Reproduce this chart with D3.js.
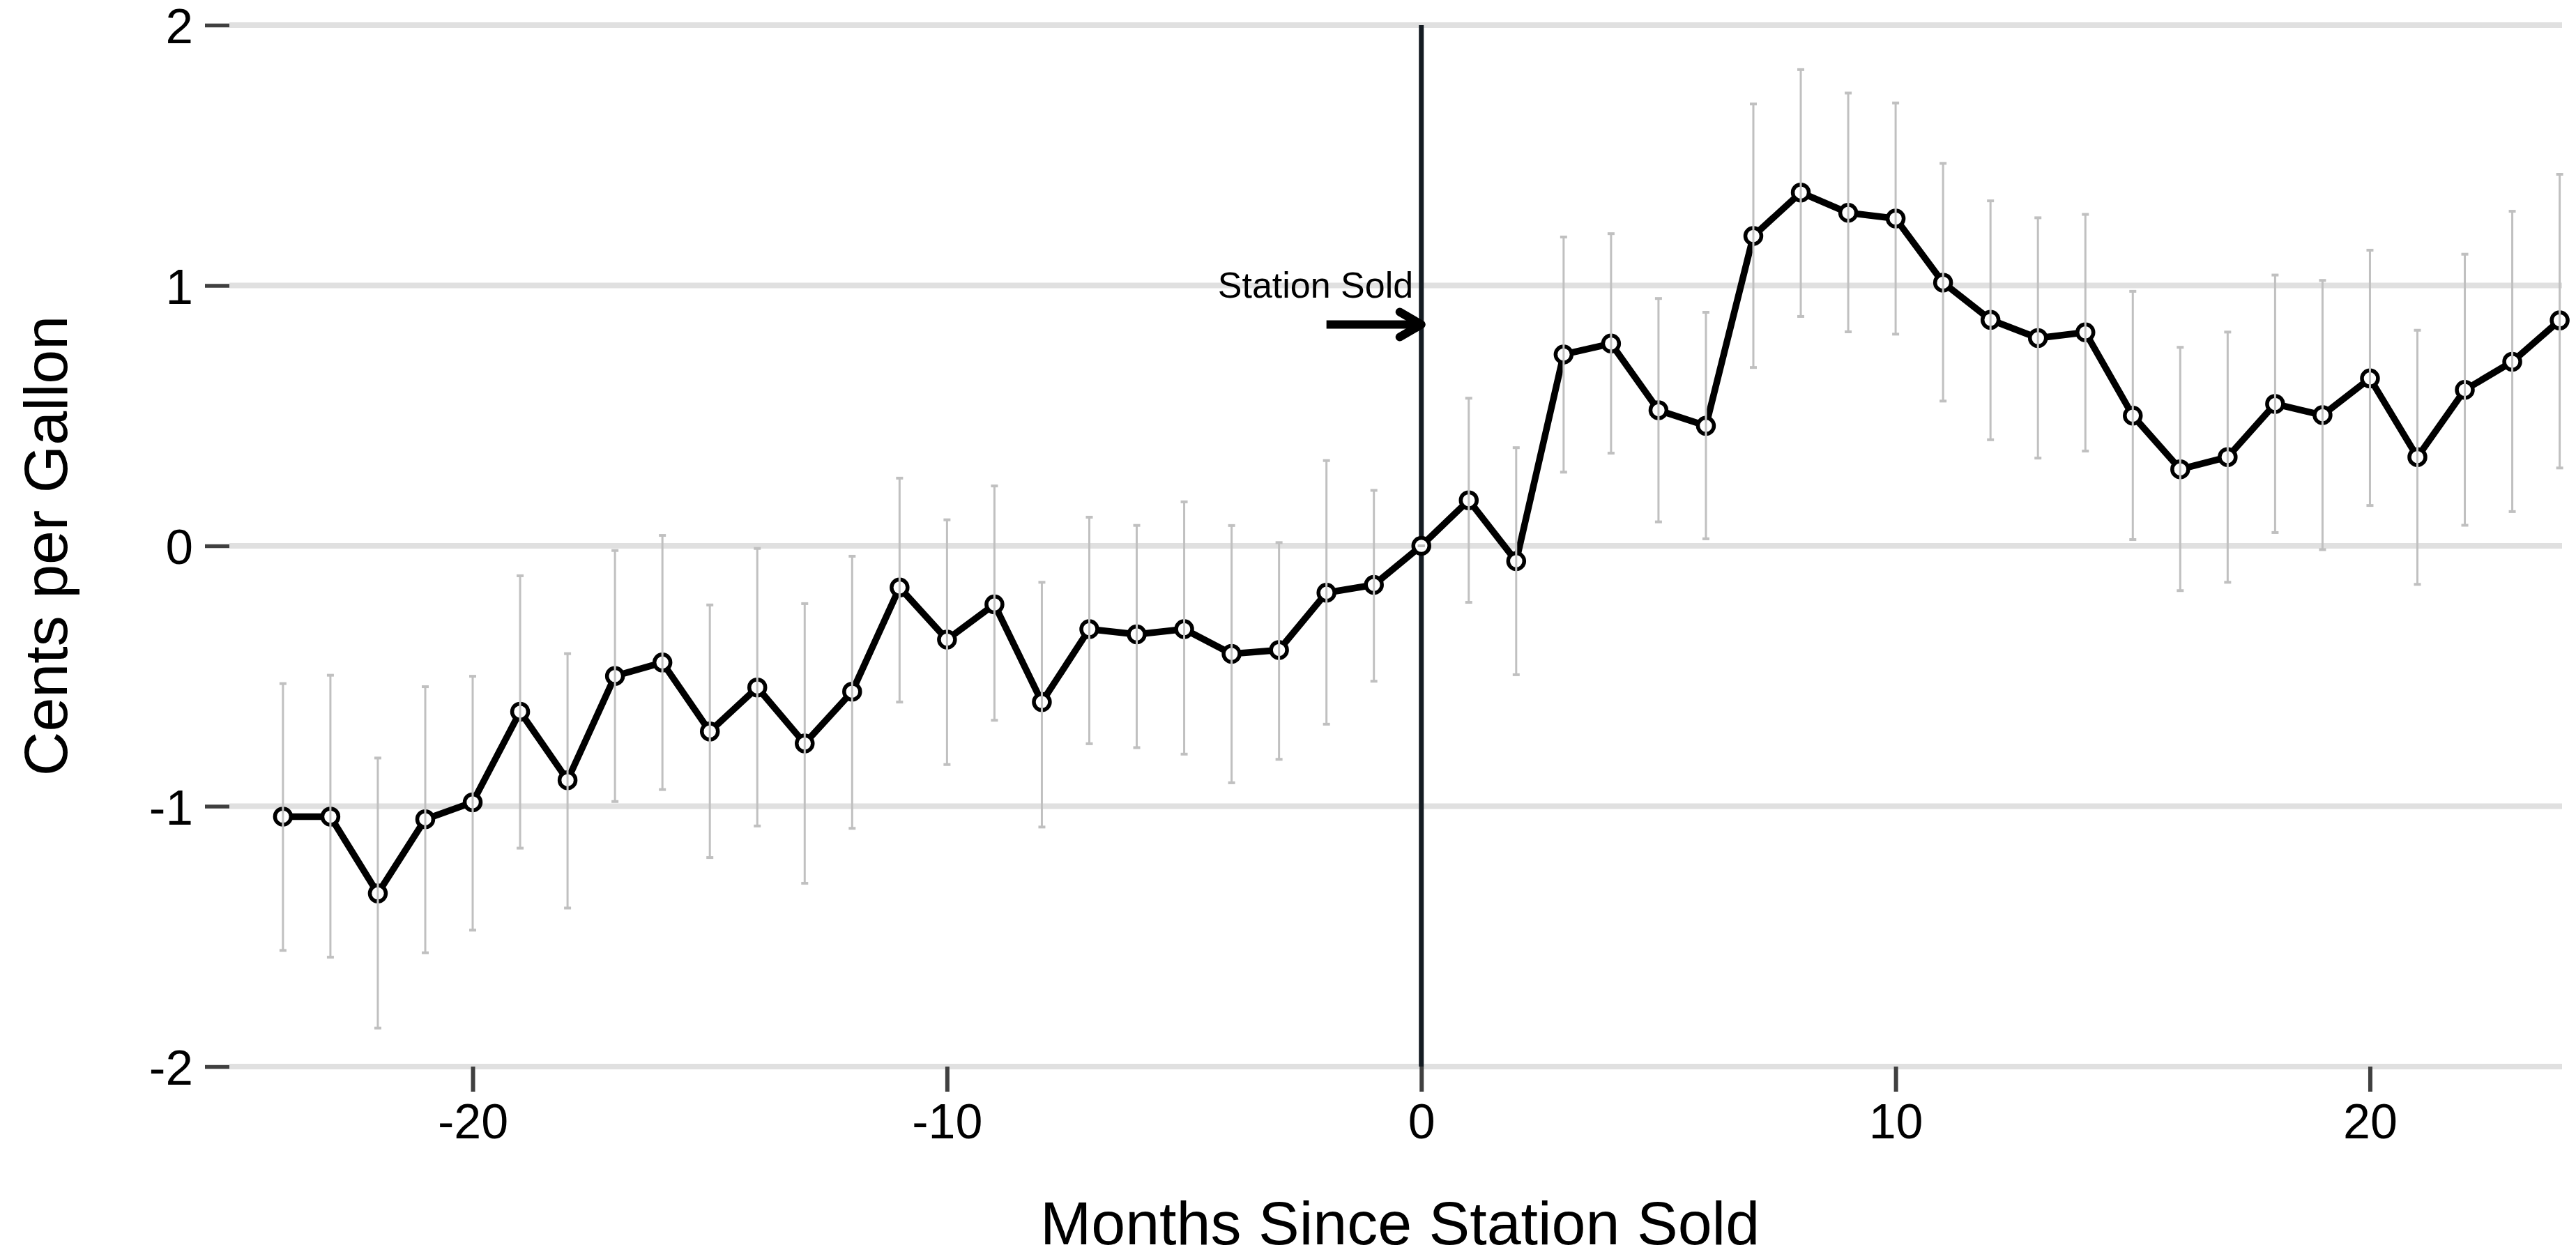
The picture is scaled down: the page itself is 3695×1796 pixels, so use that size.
<!DOCTYPE html>
<html>
<head>
<meta charset="utf-8">
<script src="https://cdn.jsdelivr.net/npm/d3@7/dist/d3.min.js"></script>
<style>
  html, body { margin: 0; padding: 0; background: #ffffff; }
  svg { display: block; }
  text { font-family: "Liberation Sans", Arial, Helvetica, sans-serif; fill: #000; }
</style>
</head>
<body>
<svg id="chart" width="3695" height="1796"></svg>
<script>
// ---- data ----
const months = [-24,-23,-22,-21,-20,-19,-18,-17,-16,-15,-14,-13,-12,-11,-10,-9,-8,-7,-6,-5,-4,-3,-2,-1,
                 0,1,2,3,4,5,6,7,8,9,10,11,12,13,14,15,16,17,18,19,20,21,22,23,24];
const estimate = [-1.04,-1.04,-1.335,-1.05,-0.985,-0.637,-0.90,-0.50,-0.448,-0.713,-0.544,-0.759,
                  -0.56,-0.16,-0.36,-0.225,-0.60,-0.32,-0.34,-0.32,-0.415,-0.40,-0.18,-0.15,
                  0,0.175,-0.059,0.735,0.777,0.521,0.461,1.19,1.357,1.279,1.257,1.011,0.868,0.798,
                  0.82,0.50,0.294,0.341,0.545,0.502,0.643,0.341,0.599,0.707,0.866];
const ciUpper = [-0.529,-0.497,-0.815,-0.541,-0.501,-0.115,-0.414,-0.018,0.04,-0.227,-0.01,-0.222,
                 -0.04,0.26,0.10,0.23,-0.14,0.11,0.0785,0.169,0.078,0.0125,0.3275,0.213,
                 0,0.567,0.377,1.186,1.199,0.95,0.897,1.697,1.829,1.739,1.701,1.469,1.325,1.26,
                 1.273,0.9775,0.7625,0.821,1.04,1.0195,1.1355,0.828,1.12,1.285,1.427];
const ciLower = [-1.554,-1.58,-1.852,-1.563,-1.476,-1.161,-1.391,-0.982,-0.936,-1.197,-1.076,-1.296,
                 -1.085,-0.60,-0.84,-0.67,-1.08,-0.76,-0.775,-0.80,-0.91,-0.82,-0.685,-0.52,
                 0,-0.217,-0.495,0.283,0.356,0.092,0.027,0.685,0.881,0.822,0.813,0.556,0.4075,0.337,
                 0.364,0.024,-0.172,-0.14,0.051,-0.0145,0.155,-0.148,0.079,0.1315,0.299];
const xTicks = [-20, -10, 0, 10, 20];
const yTicks = [-2, -1, 0, 1, 2];
const xTitle = "Months Since Station Sold";
const yTitle = "Cents per Gallon";
const annotationLabel = "Station Sold";
const eventMonth = 0;

// ---- layout ----
const svg = d3.select("#chart");
const plot = { left: 329, right: 3675, top: 36, bottom: 1530 };
const x = d3.scaleLinear().domain([-25.13, 24.05]).range([plot.left, plot.right]);
const y = d3.scaleLinear().domain([-2, 2]).range([plot.bottom, plot.top]);

const data = months.map((m, i) => ({ m, v: estimate[i], lo: ciLower[i], hi: ciUpper[i] }));

// gridlines
svg.append("g").selectAll("line").data(yTicks).join("line")
  .attr("x1", plot.left).attr("x2", plot.right)
  .attr("y1", d => y(d)).attr("y2", d => y(d))
  .attr("stroke", "#e0e0e0").attr("stroke-width", 8);

// y axis
const yAxis = svg.append("g").attr("transform", `translate(${plot.left},0)`)
  .call(d3.axisLeft(y).tickValues(yTicks).tickSize(35).tickPadding(17).tickFormat(d => String(d)));
yAxis.select(".domain").remove();
yAxis.selectAll(".tick line").attr("stroke", "#404040").attr("stroke-width", 5.5);
yAxis.selectAll(".tick text").attr("font-size", 71).attr("fill", "#000")
  .attr("font-family", "'Liberation Sans', Arial, Helvetica, sans-serif").attr("dy", "0.36em");

// x axis
const xAxis = svg.append("g").attr("transform", `translate(0,${plot.bottom})`)
  .call(d3.axisBottom(x).tickValues(xTicks).tickSize(36).tickPadding(17).tickFormat(d => String(d)));
xAxis.select(".domain").remove();
xAxis.selectAll(".tick line").attr("stroke", "#404040").attr("stroke-width", 6);
xAxis.selectAll(".tick text").attr("font-size", 70).attr("fill", "#000")
  .attr("font-family", "'Liberation Sans', Arial, Helvetica, sans-serif");

// vertical event line
svg.append("line")
  .attr("x1", x(eventMonth)).attr("x2", x(eventMonth))
  .attr("y1", y(2)).attr("y2", y(-2))
  .attr("stroke", "#141b22").attr("stroke-width", 7);

// connected line
const line = d3.line().x(d => x(d.m)).y(d => y(d.v));
svg.append("path").datum(data)
  .attr("d", line)
  .attr("fill", "none").attr("stroke", "#000").attr("stroke-width", 9.5)
  .attr("stroke-linejoin", "round").attr("stroke-linecap", "round");

// markers
svg.append("g").selectAll("circle").data(data).join("circle")
  .attr("cx", d => x(d.m)).attr("cy", d => y(d.v)).attr("r", 11.5)
  .attr("fill", "#fff").attr("stroke", "#000").attr("stroke-width", 5.5);

// error bars (drawn on top)
const eb = svg.append("g").attr("stroke", "#c0c0c0");
eb.selectAll("line.bar").data(data).join("line").attr("class", "bar")
  .attr("x1", d => x(d.m)).attr("x2", d => x(d.m))
  .attr("y1", d => y(d.hi)).attr("y2", d => y(d.lo))
  .attr("stroke-width", 3);
eb.selectAll("line.capHi").data(data).join("line").attr("class", "capHi")
  .attr("x1", d => x(d.m) - 5).attr("x2", d => x(d.m) + 5)
  .attr("y1", d => y(d.hi)).attr("y2", d => y(d.hi))
  .attr("stroke-width", 4);
eb.selectAll("line.capLo").data(data).join("line").attr("class", "capLo")
  .attr("x1", d => x(d.m) - 5).attr("x2", d => x(d.m) + 5)
  .attr("y1", d => y(d.lo)).attr("y2", d => y(d.lo))
  .attr("stroke-width", 4);

// annotation
svg.append("text")
  .attr("x", x(-0.17)).attr("y", y(0.953))
  .attr("text-anchor", "end").attr("font-size", 52)
  .text(annotationLabel);
const ay = y(0.85), tipX = x(eventMonth);
svg.append("line")
  .attr("x1", x(-2)).attr("x2", tipX - 4).attr("y1", ay).attr("y2", ay)
  .attr("stroke", "#000").attr("stroke-width", 12).attr("stroke-linecap", "butt");
svg.append("path")
  .attr("d", `M${tipX - 31},${ay - 18} L${tipX},${ay} L${tipX - 31},${ay + 18}`)
  .attr("fill", "none").attr("stroke", "#000").attr("stroke-width", 12)
  .attr("stroke-linecap", "round").attr("stroke-linejoin", "round");

// axis titles
svg.append("text")
  .attr("x", (plot.left + plot.right) / 2 + 6).attr("y", 1785)
  .attr("text-anchor", "middle").attr("font-size", 88)
  .text(xTitle);
svg.append("text")
  .attr("transform", `translate(96,${(plot.top + plot.bottom) / 2}) rotate(-90)`)
  .attr("text-anchor", "middle").attr("font-size", 88)
  .text(yTitle);
</script>
</body>
</html>
